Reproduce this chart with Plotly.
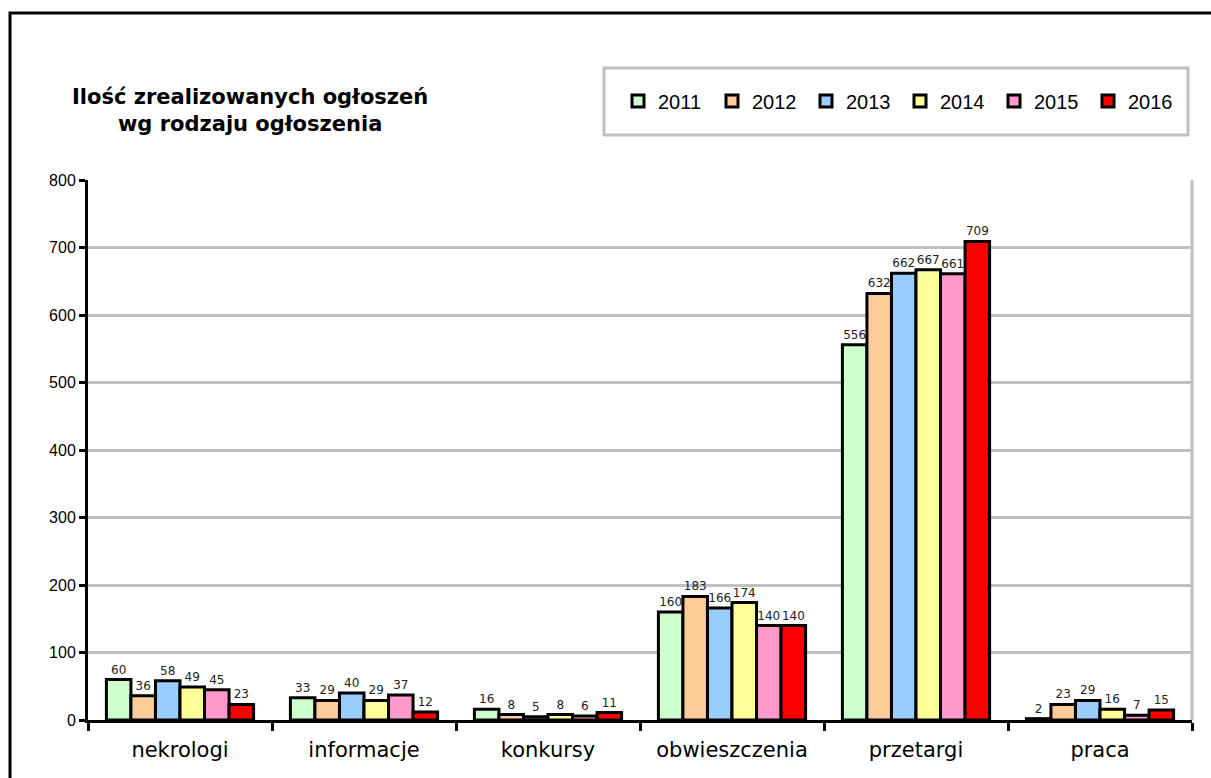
import plotly.graph_objects as go

categories = ["nekrologi", "informacje", "konkursy", "obwieszczenia", "przetargi", "praca"]
years = ["2011", "2012", "2013", "2014", "2015", "2016"]
values = {
    "2011": [60, 33, 16, 160, 556, 2],
    "2012": [36, 29, 8, 183, 632, 23],
    "2013": [58, 40, 5, 166, 662, 29],
    "2014": [49, 29, 8, 174, 667, 16],
    "2015": [45, 37, 6, 140, 661, 7],
    "2016": [23, 12, 11, 140, 709, 15],
}
colors = ["#CCFFCC", "#FFCC99", "#99CCFF", "#FFFF99", "#FF99CC", "#FF0000"]
y_ticks = [0, 100, 200, 300, 400, 500, 600, 700, 800]

fig = go.Figure()
for yr, col in zip(years, colors):
    fig.add_trace(go.Bar(
        name=yr, x=categories, y=values[yr],
        marker=dict(color=col, line=dict(color="black", width=3)),
        text=[str(v) for v in values[yr]], textposition="outside",
        textfont=dict(family="DejaVu Sans", size=12, color="#222"),
        cliponaxis=False,
    ))

W, H = 1211, 778
L, R, T, B = 88, 19, 180, 58
pw, ph = W - L - R, H - T - B

def px(x):
    return (x - L) / pw

def py(y):
    return (H - B - y) / ph

fig.update_layout(
    width=W, height=H,
    margin=dict(l=L, r=R, t=T, b=B, autoexpand=False),
    paper_bgcolor="white", plot_bgcolor="white",
    barmode="group", bargap=0.2, bargroupgap=0,
    showlegend=True,
    legend=dict(
        orientation="h", x=px(618), y=py(101), xanchor="left", yanchor="middle",
        borderwidth=0, bgcolor="rgba(0,0,0,0)",
        font=dict(family="Liberation Sans", size=20, color="black"),
        entrywidth=49, entrywidthmode="pixels",
        traceorder="normal",
    ),
    xaxis=dict(
        type="category", tickson="boundaries", ticks="outside", ticklen=8,
        tickwidth=3, tickcolor="black", showline=True, linecolor="black",
        linewidth=3, showgrid=False, ticklabelstandoff=9,
        tickfont=dict(family="DejaVu Sans", size=21, color="black"),
    ),
    yaxis=dict(
        range=[0, 800], tickvals=y_ticks, ticks="outside", ticklen=6,
        tickwidth=3, tickcolor="black", showline=True, linecolor="black",
        linewidth=3, showgrid=True, gridcolor="#C0C0C0", gridwidth=3,
        zeroline=False,
        tickfont=dict(family="Liberation Sans", size=16, color="black"),
    ),
    font=dict(family="DejaVu Sans", color="black"),
)

fig.add_annotation(
    x=px(250), y=py(110), xref="paper", yref="paper",
    xanchor="center", yanchor="middle",
    text="<b>Ilość zrealizowanych ogłoszeń<br>wg rodzaju ogłoszenia</b>",
    showarrow=False, align="center",
    font=dict(family="DejaVu Sans", size=21, color="black"),
)

# legend box
fig.add_shape(type="rect", xref="paper", yref="paper",
              x0=px(604), x1=px(1188), y0=py(135), y1=py(68),
              line=dict(color="#C0C0C0", width=3), fillcolor="white", layer="below")
# right border of plot area
fig.add_shape(type="line", xref="paper", yref="paper", x0=1, x1=1, y0=0, y1=1,
              line=dict(color="#C0C0C0", width=3), layer="below")
# outer chart frame
fig.add_shape(type="rect", xref="paper", yref="paper",
              x0=px(10), x1=px(1230), y0=py(800), y1=py(13),
              line=dict(color="black", width=3), fillcolor="rgba(0,0,0,0)")

fig.write_html("out.html", config={"displayModeBar": False},
               post_script="document.body.style.margin='0';")
